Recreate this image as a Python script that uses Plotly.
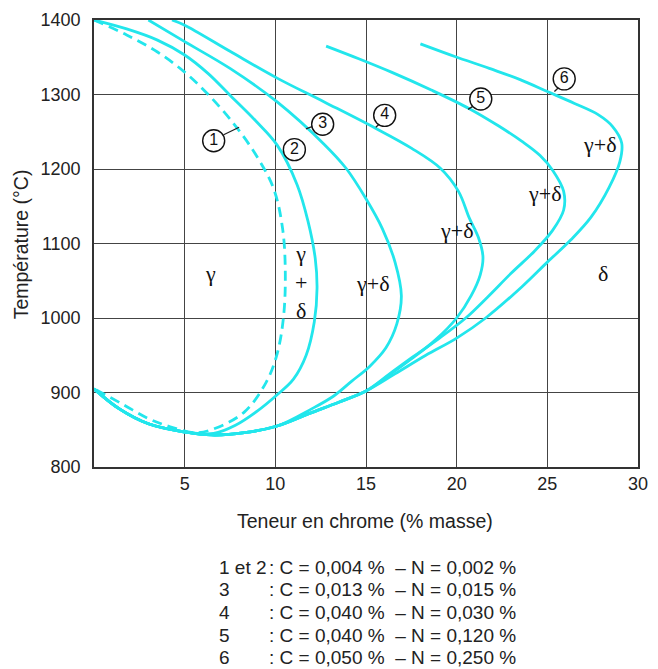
import plotly.graph_objects as go

# ---------------- data ----------------
# common lower branch shared by the curves (from right to left, ending at 0 % Cr)
lower_cr = [10.1, 8.3, 6.5, 5.0, 3.0, 1.4, 0.0]
lower_t = [855, 846, 843, 847, 858, 878, 905]
# bundle where curves 4, 5 and 6 run together before joining the lower branch
bundle_cr = [15.0, 13.5, 12.0]
bundle_t = [902, 887, 873]

c1_cr = [0.0, 1.8, 3.5, 5.0, 6.3, 7.7, 8.9, 9.9, 10.4, 10.55, 10.45, 10.1, 9.5, 8.3, 6.7, 5.6, 4.2, 3.0, 1.6, 0.0]
c1_t = [1400, 1380, 1357, 1330, 1300, 1261, 1220, 1174, 1120, 1060, 1001, 952, 914, 874, 852, 846, 854, 865, 884, 905]

c2_cr = [0.0, 1.8, 3.5, 5.0, 6.3, 7.5, 8.9, 10.1, 11.2, 11.8, 12.2, 12.3, 12.15, 11.7, 11.0, 10.1, 9.0, 7.8, 6.6] + lower_cr[3:]
c2_t = [1400, 1388, 1373, 1353, 1328, 1299, 1265, 1232, 1179, 1130, 1080, 1040, 995, 950, 918, 897, 875, 856, 845] + lower_t[3:]

c3_cr = [3.0, 5.0, 7.5, 10.1, 12.7, 13.9, 15.0, 15.9, 16.6, 16.95, 16.7, 16.1, 15.2, 14.2, 13.2, 12.0] + lower_cr
c3_t = [1400, 1371, 1335, 1290, 1233, 1201, 1160, 1120, 1075, 1030, 992, 960, 935, 915, 895, 878] + lower_t

c4_cr = [4.3, 5.0, 7.5, 10.1, 12.7, 15.5, 17.5, 19.1, 20.1, 20.7, 21.2, 21.45, 21.3, 20.8, 20.0, 18.8, 17.5, 16.2] + bundle_cr + lower_cr
c4_t = [1400, 1393, 1358, 1322, 1290, 1255, 1228, 1201, 1170, 1134, 1108, 1082, 1058, 1030, 1000, 970, 945, 922] + bundle_t + lower_t

c5_cr = [12.8, 14.6, 16.4, 18.6, 20.7, 22.3, 23.6, 24.6, 25.3, 25.9, 25.9, 25.3, 24.3, 23.0, 21.7, 20.5, 19.0, 17.6, 16.3] + bundle_cr + lower_cr
c5_t = [1365, 1348, 1330, 1306, 1281, 1258, 1237, 1218, 1198, 1170, 1145, 1118, 1090, 1060, 1028, 1000, 972, 948, 925] + bundle_t + lower_t

c6_cr = [18.0, 19.9, 21.8, 23.5, 25.0, 26.5, 27.8, 28.6, 29.1, 29.0, 28.4, 27.4, 26.3, 25.0, 23.6, 21.6, 20.0, 18.3, 16.6] + bundle_cr + lower_cr
c6_t = [1368, 1351, 1335, 1320, 1304, 1288, 1273, 1257, 1235, 1210, 1175, 1135, 1105, 1075, 1042, 1000, 973, 950, 925] + bundle_t + lower_t

# circled curve numbers
num_labels = ["1", "2", "3", "4", "5", "6"]
num_cr = [6.6, 11.05, 12.61, 16.03, 21.33, 25.93]
num_t = [1238, 1226, 1260, 1272, 1294, 1321]

# leader lines (from circle to curve)
lead_cr = [[7.15, 8.0], [12.02, 11.69], [15.81, 15.54], [20.95, 20.63], [25.61, 25.39]]
lead_t = [[1246, 1256], [1257, 1254], [1262, 1256], [1285, 1280], [1309, 1304]]

# phase region labels
phase_text = ["γ", "γ<br>+<br>δ", "γ+δ", "γ+δ", "γ+δ", "γ+δ", "δ"]
phase_cr = [6.4, 11.4, 15.4, 20.0, 24.85, 27.9, 28.05]
phase_t = [1060, 1048, 1046, 1117, 1167, 1233, 1060]

x_ticks = [5, 10, 15, 20, 25, 30]
y_ticks = [800, 900, 1000, 1100, 1200, 1300, 1400]

legend_nums = ["1 et 2", "3", "4", "5", "6"]
legend_txt = [": C = 0,004 %  – N = 0,002 %",
              ": C = 0,013 %  – N = 0,015 %",
              ": C = 0,040 %  – N = 0,030 %",
              ": C = 0,040 %  – N = 0,120 %",
              ": C = 0,050 %  – N = 0,250 %"]

# ---------------- figure ----------------
CYAN = "#22E6EC"
FONT = "Liberation Sans, Arial"
fig = go.Figure()

curves = [(c1_cr, c1_t, True), (c2_cr, c2_t, False), (c3_cr, c3_t, False),
          (c4_cr, c4_t, False), (c5_cr, c5_t, False), (c6_cr, c6_t, False)]
for xs, ys, dashed in curves:
    fig.add_trace(go.Scatter(
        x=xs, y=ys, mode="lines",
        line=dict(color=CYAN, width=2.8, shape="spline", smoothing=1.0,
                  dash="10px,6px" if dashed else "solid"),
        hoverinfo="skip", showlegend=False))

for xs, ys in zip(lead_cr, lead_t):
    fig.add_trace(go.Scatter(x=xs, y=ys, mode="lines",
                             line=dict(color="#222", width=1.3),
                             hoverinfo="skip", showlegend=False))

fig.add_trace(go.Scatter(
    x=num_cr, y=num_t, mode="markers+text", text=num_labels,
    textposition="middle center",
    textfont=dict(family=FONT, size=16, color="#111"),
    marker=dict(symbol="circle", size=22, color="white",
                line=dict(color="#111", width=1.4)),
    hoverinfo="skip", showlegend=False))

annotations = []
for t, xv, yv in zip(phase_text, phase_cr, phase_t):
    annotations.append(dict(x=xv, y=yv, xref="x", yref="y", text=t, showarrow=False,
                            font=dict(family="Liberation Serif, Times New Roman", size=22,
                                      color="#111")))

W, H = 658, 669
L, R, T, B = 94, 10, 18, 202
ph = H - T - B
pw = W - L - R


def px_to_paper_y(py):
    return (H - B - py) / ph


def px_to_paper_x(px):
    return (px - L) / pw


annotations.append(dict(x=px_to_paper_x(370), y=px_to_paper_y(521), xref="paper", yref="paper",
                        text="Teneur en chrome (% masse)", showarrow=False,
                        font=dict(family=FONT, size=19.5, color="#222"),
                        xanchor="center", yanchor="middle"))
annotations.append(dict(x=px_to_paper_x(20), y=px_to_paper_y(243), xref="paper", yref="paper",
                        text="Température (°C)", showarrow=False, textangle=-90,
                        font=dict(family=FONT, size=19.5, color="#222"),
                        xanchor="center", yanchor="middle"))

rows_y = [568, 590, 613, 636, 658]
for n, t, py in zip(legend_nums, legend_txt, rows_y):
    annotations.append(dict(x=px_to_paper_x(219), y=px_to_paper_y(py), xref="paper", yref="paper",
                            text=n, showarrow=False, xanchor="left", yanchor="middle",
                            font=dict(family=FONT, size=19, color="#222")))
    annotations.append(dict(x=px_to_paper_x(270), y=px_to_paper_y(py), xref="paper", yref="paper",
                            text=t, showarrow=False, xanchor="left", yanchor="middle",
                            font=dict(family=FONT, size=19, color="#222")))

fig.update_layout(
    width=W, height=H,
    margin=dict(l=L, r=R, t=T, b=B),
    paper_bgcolor="white", plot_bgcolor="white",
    annotations=annotations,
    xaxis=dict(range=[0, 30], tickvals=x_ticks, ticktext=[str(v) for v in x_ticks],
               showgrid=True, gridcolor="#444", gridwidth=1.4,
               showline=True, linecolor="#333", linewidth=1.6, mirror=True,
               ticks="", 
               tickfont=dict(family=FONT, size=18, color="#222"),
               zeroline=False, fixedrange=True),
    yaxis=dict(range=[800, 1400], tickvals=y_ticks, ticktext=[str(v) for v in y_ticks],
               showgrid=True, gridcolor="#444", gridwidth=1.4,
               showline=True, linecolor="#333", linewidth=1.6, mirror=True,
               ticks="outside", ticklen=8, tickcolor="rgba(0,0,0,0)",
               tickfont=dict(family=FONT, size=18, color="#222"),
               zeroline=False, fixedrange=True),
)

fig.write_html("out.html")
